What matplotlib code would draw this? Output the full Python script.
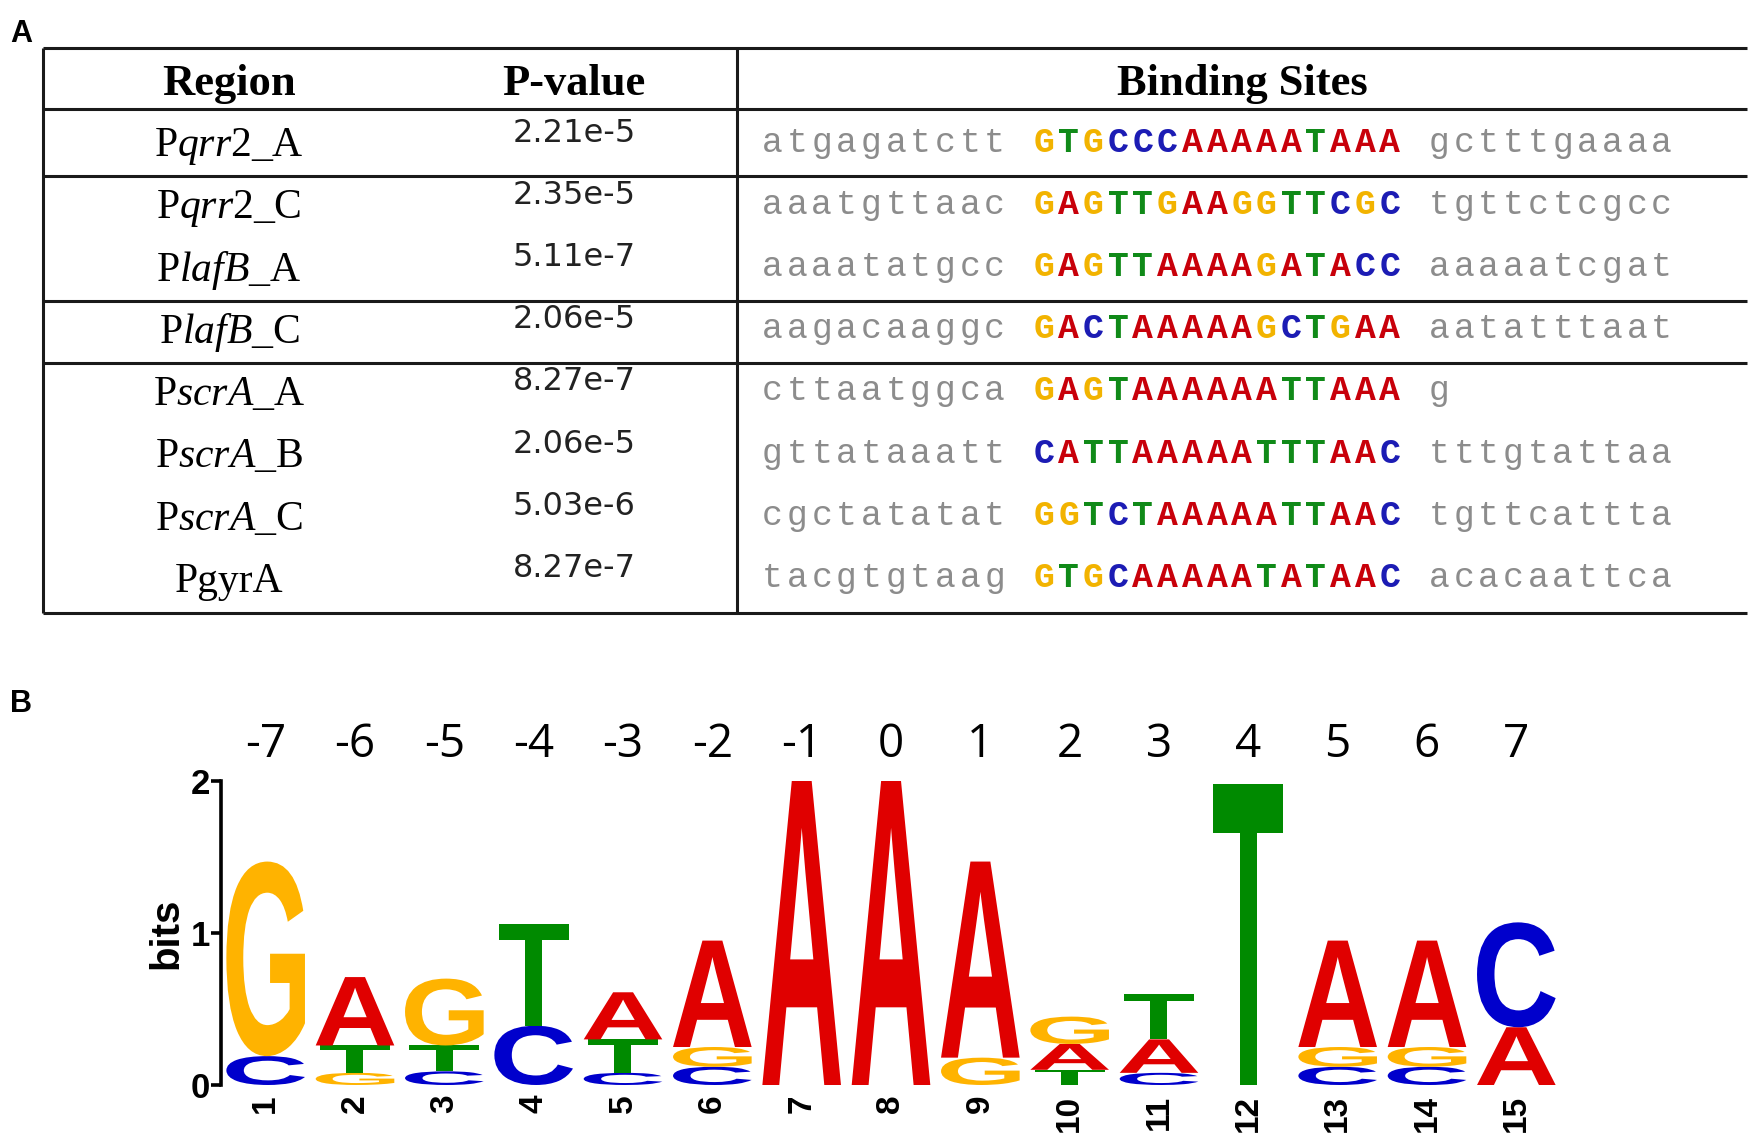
import matplotlib
matplotlib.use("Agg")
import matplotlib.pyplot as plt
import matplotlib.transforms as mtransforms
from matplotlib.textpath import TextPath
from matplotlib.patches import PathPatch
from matplotlib.font_manager import FontProperties
import numpy as np

plt.rcParams['mathtext.fontset'] = 'custom'
plt.rcParams['mathtext.rm'] = 'Liberation Serif'
plt.rcParams['mathtext.it'] = 'Liberation Serif:italic'

#####################################################################
# table data (panel A)
regions = ["P$\\mathit{qrr2}$_A", "P$\\mathit{qrr2}$_C", "P$\\mathit{lafB}$_A",
           "P$\\mathit{lafB}$_C", "P$\\mathit{scrA}$_A", "P$\\mathit{scrA}$_B",
           "P$\\mathit{scrA}$_C", "PgyrA"]
pvalues = ["2.21e-5", "2.35e-5", "5.11e-7", "2.06e-5",
           "8.27e-7", "2.06e-5", "5.03e-6", "8.27e-7"]
left_flank = ["atgagatctt", "aaatgttaac", "aaaatatgcc", "aagacaaggc",
              "cttaatggca", "gttataaatt", "cgctatatat", "tacgtgtaag"]
core_site = ["GTGCCCAAAAATAAA", "GAGTTGAAGGTTCGC", "GAGTTAAAAGATACC", "GACTAAAAAGCTGAA",
             "GAGTAAAAAATTAAA", "CATTAAAAATTTAAC", "GGTCTAAAAATTAAC", "GTGCAAAAATATAAC"]
right_flank = ["gctttgaaaa", "tgttctcgcc", "aaaaatcgat", "aatatttaat",
               "g", "tttgtattaa", "tgttcattta", "acacaattca"]
group_breaks = [0, 2, 3]   # a rule is drawn after these rows

# logo data (panel B), information in bits per base
positions = np.arange(1, 16)
top_labels = ["-7", "-6", "-5", "-4", "-3", "-2", "-1", "0", "1", "2", "3", "4", "5", "6", "7"]
bits_A = [0.00, 0.45, 0.00, 0.00, 0.31, 0.70, 2.00, 2.00, 1.29, 0.17, 0.22, 0.00, 0.70, 0.70, 0.38]
bits_C = [0.19, 0.00, 0.09, 0.39, 0.08, 0.12, 0.00, 0.00, 0.00, 0.00, 0.08, 0.00, 0.12, 0.12, 0.69]
bits_G = [1.28, 0.08, 0.44, 0.00, 0.00, 0.13, 0.00, 0.00, 0.18, 0.18, 0.00, 0.00, 0.13, 0.13, 0.00]
bits_T = [0.00, 0.18, 0.17, 0.67, 0.22, 0.00, 0.00, 0.00, 0.00, 0.10, 0.30, 1.98, 0.00, 0.00, 0.00]

logo_colors = {'A': '#e00000', 'C': '#0000cc', 'G': '#ffb300', 'T': '#008a00'}
seq_colors = {'A': '#c8000a', 'C': '#1c1cb4', 'G': '#f2b300', 'T': '#108a18'}

#####################################################################
W, H = 1758, 1142
fig = plt.figure(figsize=(W / 100, H / 100), dpi=100)

# full-figure axes in pixel units for the table
tab = fig.add_axes([0, 0, 1, 1])
tab.set_xlim(0, W)
tab.set_ylim(H, 0)
tab.axis('off')

tab.text(21, 34, "A", fontsize=22, fontweight='bold', family='Liberation Sans',
         ha='center', va='center')
tab.text(21, 704, "B", fontsize=22, fontweight='bold', family='Liberation Sans',
         ha='center', va='center')

#--------------------------------
x_left, x_div, x_right = 43, 737, 1747
y_top, y_head = 48, 109
row_h = 62.2
y_first = y_head + row_h / 2 + 2
row_y = [y_first + i * row_h for i in range(len(regions))]
y_bottom = row_y[-1] + row_h / 2 + 4

line_kw = dict(color='#1a1a1a', lw=2.2, solid_capstyle='butt')
tab.plot([x_left, x_right], [y_top, y_top], **line_kw)
tab.plot([x_left, x_right], [y_head, y_head], **line_kw)
for b in group_breaks:
    yb = (row_y[b] + row_y[b + 1]) / 2 + 3
    tab.plot([x_left, x_right], [yb, yb], **line_kw)
tab.plot([x_left, x_right], [y_bottom, y_bottom], **line_kw)
tab.plot([x_left, x_left], [y_top, y_bottom], **line_kw)
tab.plot([x_div, x_div], [y_top, y_bottom], **line_kw)

head_kw = dict(fontsize=32, fontweight='bold', family='Liberation Serif',
               ha='center', va='center')
tab.text(229, 84, "Region", **head_kw)
tab.text(574, 84, "P-value", **head_kw)
tab.text(1242, 84, "Binding Sites", **head_kw)

pitch = 24.7
x_seq0 = 760 + pitch / 2
for i in range(len(regions)):
    y = row_y[i]
    tab.text(229, y + 4, regions[i], fontsize=30, family='Liberation Serif',
             ha='center', va='center')
    tab.text(574, y - 9, pvalues[i], fontsize=23, family='DejaVu Sans',
             ha='center', va='center', color='#222222')
    full = left_flank[i] + " " + core_site[i] + " " + right_flank[i]
    n_left = len(left_flank[i]) + 1
    for k, ch in enumerate(full):
        if ch == " ":
            continue
        in_core = n_left <= k < n_left + len(core_site[i])
        tab.text(x_seq0 + k * pitch, y, ch, fontsize=25, family='Liberation Mono',
                 fontweight='bold' if in_core else 'normal',
                 color=seq_colors[ch] if in_core else '#8c8c8c',
                 ha='center', va='center')

#####################################################################
# sequence logo
ax = fig.add_axes([221 / W, 57 / H, 1340 / W, 304 / H])
ax.set_xlim(0.5, 15.5)
ax.set_ylim(0, 2)
for s in ['top', 'right', 'bottom']:
    ax.spines[s].set_visible(False)
ax.spines['left'].set_linewidth(2.6)
ax.patch.set_alpha(0)

logo_font = FontProperties(family='Liberation Sans', weight='bold')


def draw_letter(ax, ch, x, y0, h, width=0.88):
    tp = TextPath((0, 0), ch, size=1, prop=logo_font)
    bb = tp.get_extents()
    tr = (mtransforms.Affine2D()
          .translate(-bb.x0, -bb.y0)
          .scale(width / bb.width, h / bb.height)
          .translate(x - width / 2, y0))
    ax.add_patch(PathPatch(tr.transform_path(tp), fc=logo_colors[ch], ec='none', lw=0))


heights = {'A': bits_A, 'C': bits_C, 'G': bits_G, 'T': bits_T}
for j, pos in enumerate(positions):
    stack = sorted([(heights[b][j], b) for b in 'ACGT' if heights[b][j] > 0])
    y0 = 0
    for h, b in stack:
        draw_letter(ax, b, pos, y0, h, width=0.78 if b == 'T' else 0.88)
        y0 += h
    ax.text(pos, 2.24, top_labels[j], fontsize=33, family='Open Sans',
            ha='center', va='center')

ax.set_yticks([0, 1, 2])
ax.set_yticklabels(["0", "1", "2"], fontsize=25, fontweight='bold', family='Liberation Sans')
ax.tick_params(axis='y', length=7, width=2.6, pad=1)
ax.set_xticks(positions)
ax.set_xticklabels([str(p) for p in positions], rotation=90, fontsize=24,
                   fontweight='bold', family='Liberation Sans')
ax.tick_params(axis='x', length=0, pad=7)
ax.set_ylabel("bits", fontsize=29, fontweight='bold', family='Liberation Sans', labelpad=4)

fig.savefig("out.png", dpi=100)
